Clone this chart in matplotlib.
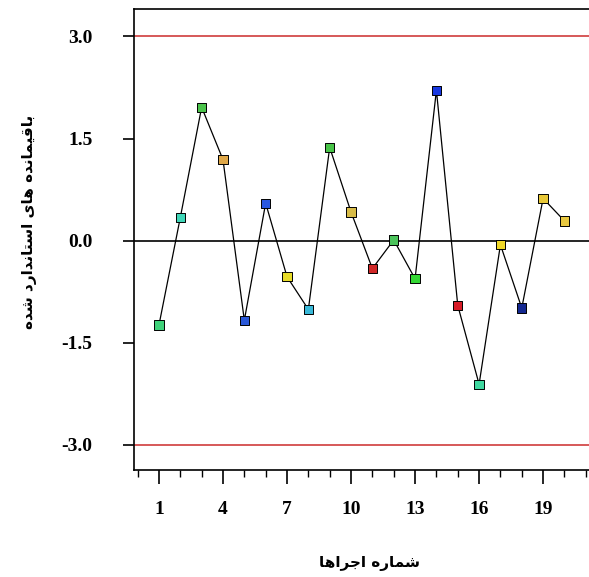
import matplotlib
matplotlib.use("Agg")
import matplotlib.pyplot as plt
from matplotlib.ticker import FixedLocator, MultipleLocator

# standardized residuals per run
runs = list(range(1, 21))
residuals = [-1.24, 0.34, 1.96, 1.19, -1.17, 0.55, -0.53, -1.01, 1.37, 0.42,
             -0.41, 0.01, -0.56, 2.21, -0.95, -2.11, -0.06, -0.99, 0.62, 0.29]
marker_colors = ["#3fd27a", "#3fd6b8", "#4cc44c", "#e0a848", "#2a58d8",
                 "#2a58e0", "#e8dc28", "#38b8d8", "#48c448", "#d8bc48",
                 "#d02828", "#4cc45c", "#34d834", "#1838e0", "#d81c28",
                 "#40d8a0", "#f0d828", "#142890", "#e8c838", "#e8c840"]
x_ticks = [1, 4, 7, 10, 13, 16, 19, 22]
y_ticks = [-3.0, -1.5, 0.0, 1.5, 3.0]
limit = 3.0

x_label = "شماره اجراها"
y_label = "باقیمانده های استاندارد شده"

# matplotlib has no Arabic shaping, so map letters to presentation forms
FORMS = {
    "ا": ("\ufe8d", "\ufe8e", None, None),
    "ب": ("\ufe8f", "\ufe90", "\ufe91", "\ufe92"),
    "ت": ("\ufe95", "\ufe96", "\ufe97", "\ufe98"),
    "ج": ("\ufe9d", "\ufe9e", "\ufe9f", "\ufea0"),
    "د": ("\ufea9", "\ufeaa", None, None),
    "ر": ("\ufead", "\ufeae", None, None),
    "س": ("\ufeb1", "\ufeb2", "\ufeb3", "\ufeb4"),
    "ش": ("\ufeb5", "\ufeb6", "\ufeb7", "\ufeb8"),
    "ق": ("\ufed5", "\ufed6", "\ufed7", "\ufed8"),
    "م": ("\ufee1", "\ufee2", "\ufee3", "\ufee4"),
    "ن": ("\ufee5", "\ufee6", "\ufee7", "\ufee8"),
    "ه": ("\ufee9", "\ufeea", "\ufeeb", "\ufeec"),
    "ی": ("\ufbfc", "\ufbfd", "\ufbfe", "\ufbff"),
}


def shape(text):
    out = []
    for i, ch in enumerate(text):
        if ch not in FORMS:
            out.append(ch)
            continue
        prev = text[i - 1] if i > 0 else ""
        nxt = text[i + 1] if i + 1 < len(text) else ""
        join_prev = prev in FORMS and FORMS[prev][2] is not None
        join_next = FORMS[ch][2] is not None and nxt in FORMS
        iso, fin, ini, med = FORMS[ch]
        if join_prev and join_next:
            out.append(med)
        elif join_prev:
            out.append(fin)
        elif join_next:
            out.append(ini)
        else:
            out.append(iso)
    return "".join(out)[::-1]


fig = plt.figure(figsize=(5.89, 5.77), dpi=100, facecolor="white")
ax = fig.add_axes([0.2275, 0.1854, 0.7725, 0.7986])

ax.axhline(limit, color="#d03c3c", lw=1.2, zorder=1)
ax.axhline(-limit, color="#d03c3c", lw=1.2, zorder=1)
ax.axhline(0, color="black", lw=1.2, zorder=1)
ax.plot(runs, residuals, color="black", lw=0.9, zorder=2)
ax.scatter(runs, residuals, marker="s", s=46, c=marker_colors,
           edgecolors="black", linewidths=0.7, zorder=3)

ax.set_xlim(-0.17, 21.15)
ax.set_ylim(-3.37, 3.40)
ax.spines["right"].set_visible(False)
for s in ["left", "top", "bottom"]:
    ax.spines[s].set_linewidth(1.2)

ax.xaxis.set_major_locator(FixedLocator(x_ticks))
ax.xaxis.set_minor_locator(MultipleLocator(1))
ax.set_yticks(y_ticks)
ax.set_yticklabels([f"{v:.1f}" for v in y_ticks])

ax.tick_params(axis="x", which="major", length=10, width=1.2, pad=12)
ax.tick_params(axis="x", which="minor", length=5, width=1.0)
ax.tick_params(axis="y", length=8, width=1.2, pad=22)
for lab in ax.get_xticklabels() + ax.get_yticklabels():
    lab.set_fontfamily("Liberation Serif")
    lab.set_fontweight("bold")
    lab.set_fontsize(14)

fig.text(0.628, 0.024, shape(x_label), ha="center", va="center",
         fontsize=11, fontweight="bold", family="DejaVu Sans")
fig.text(0.05, 0.615, shape(y_label), ha="center", va="center", rotation=90,
         fontsize=11, fontweight="bold", family="DejaVu Sans")

fig.savefig("out.png", dpi=100, facecolor="white")
